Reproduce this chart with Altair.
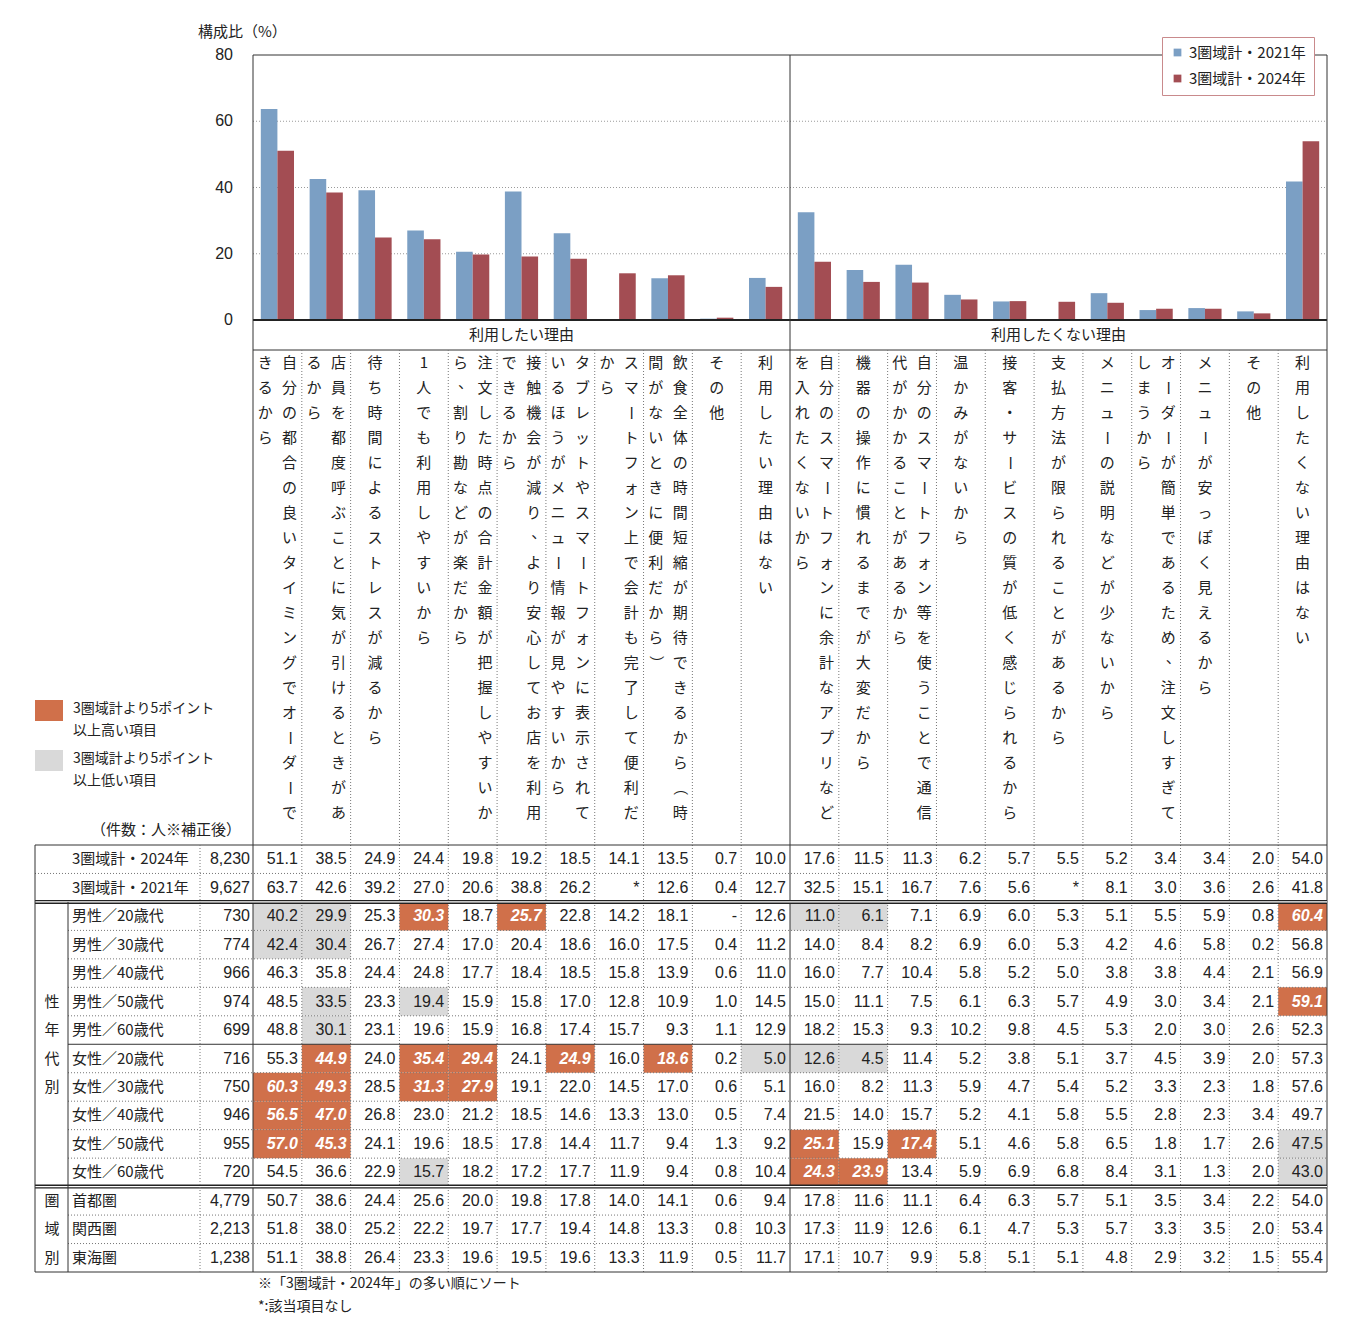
import altair as alt
import pandas as pd

JP = "Noto Sans CJK JP"
NUM = "Liberation Sans"

# ---------------- data ----------------
series_names = ["3圏域計・2021年", "3圏域計・2024年"]
section_names = ["利用したい理由", "利用したくない理由"]

want_reasons = [
    "自分の都合の良いタイミングでオーダーできるから",
    "店員を都度呼ぶことに気が引けるときがあるから",
    "待ち時間によるストレスが減るから",
    "1人でも利用しやすいから",
    "注文した時点の合計金額が把握しやすいから、割り勘などが楽だから",
    "接触機会が減り、より安心してお店を利用できるから",
    "タブレットやスマートフォンに表示されているほうがメニュー情報が見やすいから",
    "スマートフォン上で会計も完了して便利だから",
    "飲食全体の時間短縮が期待できるから（時間がないときに便利だから）",
    "その他",
    "利用したい理由はない",
]
dont_reasons = [
    "自分のスマートフォンに余計なアプリなどを入れたくないから",
    "機器の操作に慣れるまでが大変だから",
    "自分のスマートフォン等を使うことで通信代がかかることがあるから",
    "温かみがないから",
    "接客・サービスの質が低く感じられるから",
    "支払方法が限られることがあるから",
    "メニューの説明などが少ないから",
    "オーダーが簡単であるため、注文しすぎてしまうから",
    "メニューが安っぽく見えるから",
    "その他",
    "利用したくない理由はない",
]

total_2024 = [51.1, 38.5, 24.9, 24.4, 19.8, 19.2, 18.5, 14.1, 13.5, 0.7, 10.0,
              17.6, 11.5, 11.3, 6.2, 5.7, 5.5, 5.2, 3.4, 3.4, 2.0, 54.0]
total_2021 = [63.7, 42.6, 39.2, 27.0, 20.6, 38.8, 26.2, None, 12.6, 0.4, 12.7,
              32.5, 15.1, 16.7, 7.6, 5.6, None, 8.1, 3.0, 3.6, 2.6, 41.8]
total_labels = ["3圏域計・2024年", "3圏域計・2021年"]
total_counts = [8230, 9627]

group_names = ["性年代別", "圏域別"]
demo_labels = ["男性／20歳代", "男性／30歳代", "男性／40歳代", "男性／50歳代", "男性／60歳代",
               "女性／20歳代", "女性／30歳代", "女性／40歳代", "女性／50歳代", "女性／60歳代"]
demo_counts = [730, 774, 966, 974, 699, 716, 750, 946, 955, 720]
male_20 = [40.2, 29.9, 25.3, 30.3, 18.7, 25.7, 22.8, 14.2, 18.1, None, 12.6,
           11.0, 6.1, 7.1, 6.9, 6.0, 5.3, 5.1, 5.5, 5.9, 0.8, 60.4]
male_30 = [42.4, 30.4, 26.7, 27.4, 17.0, 20.4, 18.6, 16.0, 17.5, 0.4, 11.2,
           14.0, 8.4, 8.2, 6.9, 6.0, 5.3, 4.2, 4.6, 5.8, 0.2, 56.8]
male_40 = [46.3, 35.8, 24.4, 24.8, 17.7, 18.4, 18.5, 15.8, 13.9, 0.6, 11.0,
           16.0, 7.7, 10.4, 5.8, 5.2, 5.0, 3.8, 3.8, 4.4, 2.1, 56.9]
male_50 = [48.5, 33.5, 23.3, 19.4, 15.9, 15.8, 17.0, 12.8, 10.9, 1.0, 14.5,
           15.0, 11.1, 7.5, 6.1, 6.3, 5.7, 4.9, 3.0, 3.4, 2.1, 59.1]
male_60 = [48.8, 30.1, 23.1, 19.6, 15.9, 16.8, 17.4, 15.7, 9.3, 1.1, 12.9,
           18.2, 15.3, 9.3, 10.2, 9.8, 4.5, 5.3, 2.0, 3.0, 2.6, 52.3]
female_20 = [55.3, 44.9, 24.0, 35.4, 29.4, 24.1, 24.9, 16.0, 18.6, 0.2, 5.0,
             12.6, 4.5, 11.4, 5.2, 3.8, 5.1, 3.7, 4.5, 3.9, 2.0, 57.3]
female_30 = [60.3, 49.3, 28.5, 31.3, 27.9, 19.1, 22.0, 14.5, 17.0, 0.6, 5.1,
             16.0, 8.2, 11.3, 5.9, 4.7, 5.4, 5.2, 3.3, 2.3, 1.8, 57.6]
female_40 = [56.5, 47.0, 26.8, 23.0, 21.2, 18.5, 14.6, 13.3, 13.0, 0.5, 7.4,
             21.5, 14.0, 15.7, 5.2, 4.1, 5.8, 5.5, 2.8, 2.3, 3.4, 49.7]
female_50 = [57.0, 45.3, 24.1, 19.6, 18.5, 17.8, 14.4, 11.7, 9.4, 1.3, 9.2,
             25.1, 15.9, 17.4, 5.1, 4.6, 5.8, 6.5, 1.8, 1.7, 2.6, 47.5]
female_60 = [54.5, 36.6, 22.9, 15.7, 18.2, 17.2, 17.7, 11.9, 9.4, 0.8, 10.4,
             24.3, 23.9, 13.4, 5.9, 6.9, 6.8, 8.4, 3.1, 1.3, 2.0, 43.0]
region_labels = ["首都圏", "関西圏", "東海圏"]
region_counts = [4779, 2213, 1238]
shutoken = [50.7, 38.6, 24.4, 25.6, 20.0, 19.8, 17.8, 14.0, 14.1, 0.6, 9.4,
            17.8, 11.6, 11.1, 6.4, 6.3, 5.7, 5.1, 3.5, 3.4, 2.2, 54.0]
kansaiken = [51.8, 38.0, 25.2, 22.2, 19.7, 17.7, 19.4, 14.8, 13.3, 0.8, 10.3,
             17.3, 11.9, 12.6, 6.1, 4.7, 5.3, 5.7, 3.3, 3.5, 2.0, 53.4]
tokaiken = [51.1, 38.8, 26.4, 23.3, 19.6, 19.5, 19.6, 13.3, 11.9, 0.5, 11.7,
            17.1, 10.7, 9.9, 5.8, 5.1, 5.1, 4.8, 2.9, 3.2, 1.5, 55.4]

y_ticks = [0, 20, 40, 60, 80]
axis_title = "構成比（%）"
key_labels = ["3圏域計より5ポイント\n以上高い項目", "3圏域計より5ポイント\n以上低い項目"]
unit_note = "（件数：人※補正後）"
footnotes = ["※「3圏域計・2024年」の多い順にソート", "*:該当項目なし"]

# ---------------- frames ----------------
BLUE, RED = "#7B9FC4", "#A34D53"
ORANGE, GRAY = "#D0704A", "#D9D9D9"
LINE, DOT = "#333333", "#777777"

reasons = want_reasons + dont_reasons
cat_ids = [f"c{i:02d}" for i in range(len(reasons))]
n_cat = len(cat_ids)

bar_rows = []
for s, vals in zip(series_names, [total_2021, total_2024]):
    for cid, v in zip(cat_ids, vals):
        if v is not None:
            bar_rows.append(dict(cid=cid, series=s, value=v))
bar_df = pd.DataFrame(bar_rows)

row_names = total_labels + demo_labels + region_labels
row_counts = total_counts + demo_counts + region_counts
row_values = [total_2024, total_2021, male_20, male_30, male_40, male_50, male_60,
              female_20, female_30, female_40, female_50, female_60,
              shutoken, kansaiken, tokaiken]
n_row = len(row_names)

cells = []
for ri, (rn, vals) in enumerate(zip(row_names, row_values)):
    for ci, v in enumerate(vals):
        flag = "none"
        if v is None:
            disp = "*" if ri == 1 else "-"
        else:
            disp = f"{v:.1f}"
            if ri >= 2:
                d = round(v - total_2024[ci], 1)
                if d >= 5:
                    flag = "high"
                elif d <= -5:
                    flag = "low"
        cells.append(dict(row=rn, cid=cat_ids[ci], disp=disp, flag=flag))
cell_df = pd.DataFrame(cells)

count_df = pd.DataFrame(dict(row=row_names, cnt=[f"{c:,}" for c in row_counts]))

grp_rows = []
for ch, rn in zip(group_names[0], demo_labels[3:7]):
    grp_rows.append(dict(row=rn, ch=ch))
for ch, rn in zip(group_names[1], region_labels):
    grp_rows.append(dict(row=rn, ch=ch))
grp_df = pd.DataFrame(grp_rows)

# vertical category labels, 19 characters per column line
chars = []
for cid, lab in zip(cat_ids, reasons):
    lines = [lab[i:i + 19] for i in range(0, len(lab), 19)]
    slots = ["C"] if len(lines) == 1 else ["R", "L"]
    for line, slot in zip(lines, slots):
        for k, ch in enumerate(line):
            chars.append(dict(cid=cid, slot=slot, k=k, ch=ch,
                              rot=90 if ch in "ー（）" else 0,
                              punct=ch in "、"))
char_df = pd.DataFrame(chars)

sec_df = pd.DataFrame(dict(t=section_names, c=[n_cat / 4, 3 * n_cat / 4]))
tick_df = pd.DataFrame(dict(v=y_ticks))

# ---------------- scales ----------------
XR = [245, 1319]
def col_band(pi=0.0, po=0.0):
    return alt.Scale(type="band", domain=cat_ids, range=XR, paddingInner=pi, paddingOuter=po)
def col_lin():
    return alt.Scale(domain=[0, n_cat], range=XR, nice=False, zero=False)
def row_band():
    return alt.Scale(type="band", domain=row_names, range=[837, 1264], paddingInner=0, paddingOuter=0)
def row_lin():
    return alt.Scale(domain=[0, n_row], range=[837, 1264], nice=False, zero=False)
def bar_y():
    return alt.Scale(domain=[0, 80], range=[312, 47], nice=False, zero=True)
def char_y():
    return alt.Scale(domain=[0, 18], range=[355, 805], nice=False, zero=False)

layers = []

# highlighted cells
layers.append(alt.Chart(cell_df).transform_filter("datum.flag != 'none'").mark_rect().encode(
    x=alt.X("cid:N", scale=col_band(), axis=None),
    y=alt.Y("row:N", scale=row_band(), axis=None),
    color=alt.Color("flag:N", scale=alt.Scale(domain=["high", "low"], range=[ORANGE, GRAY]), legend=None),
))

# left key swatches
key_df = pd.DataFrame(dict(k=[0, 1], lab=key_labels))
layers.append(alt.Chart(key_df).mark_rect().encode(
    x=alt.value(27), x2=alt.value(55),
    y=alt.Y("k:Q", scale=alt.Scale(domain=[0, 1], range=[692, 742]), axis=None),
    y2=alt.Y2("k2:Q"),
    color=alt.Color("k:N", scale=alt.Scale(domain=[0, 1], range=[ORANGE, GRAY]), legend=None),
).transform_calculate(k2="datum.k + 0.42"))
layers.append(alt.Chart(key_df).mark_text(font=JP, fontSize=14, align="left", baseline="top",
                                          lineBreak="\n", lineHeight=22, color="#222").encode(
    x=alt.value(65),
    y=alt.Y("k:Q", scale=alt.Scale(domain=[0, 1], range=[694, 744]), axis=None),
    text="lab:N"))

# bar gridlines
layers.append(alt.Chart(tick_df).transform_filter("datum.v > 0 && datum.v < 80").mark_rule(
    color="#9a9a9a", strokeDash=[1, 2], strokeWidth=1).encode(
    y=alt.Y("v:Q", scale=bar_y(), axis=None), x=alt.value(XR[0]), x2=alt.value(XR[1])))

# bars
layers.append(alt.Chart(bar_df).mark_bar().encode(
    x=alt.X("cid:N", scale=col_band(0.32, 0.16), axis=None),
    xOffset=alt.XOffset("series:N", scale=alt.Scale(domain=series_names, paddingInner=0, paddingOuter=0)),
    y=alt.Y("value:Q", scale=bar_y(), axis=None),
    color=alt.Color("series:N", scale=alt.Scale(domain=series_names, range=[BLUE, RED]),
                    legend=alt.Legend(orient="none", legendX=1154, legendY=29, title=None,
                                      symbolType="square", symbolSize=60, symbolStrokeWidth=0,
                                      labelFont=JP, labelFontSize=15, labelColor="#222",
                                      rowPadding=10, padding=8, labelOffset=4,
                                      strokeColor="#C98A8C", fillColor="white", labelLimit=300)),
))

# bar frame top and baseline
layers.append(alt.Chart(tick_df).transform_filter("datum.v == 80").mark_rule(color=LINE, strokeWidth=1).encode(
    y=alt.Y("v:Q", scale=bar_y(), axis=None), x=alt.value(XR[0]), x2=alt.value(XR[1])))
layers.append(alt.Chart(tick_df).transform_filter("datum.v == 0").mark_rule(color="#222", strokeWidth=2).encode(
    y=alt.Y("v:Q", scale=bar_y(), axis=None), x=alt.value(XR[0]), x2=alt.value(XR[1])))
# section header bottom
layers.append(alt.Chart(sec_df.head(1)).mark_rule(color=LINE, strokeWidth=1).encode(
    y=alt.value(342), x=alt.value(XR[0]), x2=alt.value(XR[1])))

# vertical column boundaries
bounds = pd.DataFrame(dict(c=list(range(n_cat + 1))))
major = [0, n_cat // 2, n_cat]
layers.append(alt.Chart(bounds).transform_filter(alt.FieldOneOfPredicate(field="c", oneOf=major)).mark_rule(
    color=LINE, strokeWidth=1).encode(
    x=alt.X("c:Q", scale=col_lin(), axis=None), y=alt.value(47), y2=alt.value(1264)))
layers.append(alt.Chart(bounds).transform_filter(
    {"not": alt.FieldOneOfPredicate(field="c", oneOf=major)}).mark_rule(
    color=DOT, strokeDash=[1, 2], strokeWidth=1).encode(
    x=alt.X("c:Q", scale=col_lin(), axis=None), y=alt.value(342), y2=alt.value(1264)))

# table horizontal lines
rb = pd.DataFrame(dict(r=list(range(n_row + 1))))
grp_starts = [2, 12]
full_solid = [0, n_row]
inner_solid = [7]
def hline(sel, x0, **kw):
    return alt.Chart(rb).transform_filter(alt.FieldOneOfPredicate(field="r", oneOf=sel)).mark_rule(**kw).encode(
        y=alt.Y("r:Q", scale=row_lin(), axis=None), x=alt.value(x0), x2=alt.value(XR[1]))
dotted_inner = [r for r in range(3, n_row) if r not in grp_starts + inner_solid]
layers.append(hline([1], 27, color=DOT, strokeDash=[1, 2], strokeWidth=1))
layers.append(hline(dotted_inner, 60, color=DOT, strokeDash=[1, 2], strokeWidth=1))
layers.append(hline(full_solid, 27, color=LINE, strokeWidth=1))
layers.append(hline(inner_solid, 60, color=LINE, strokeWidth=1))
layers.append(hline(grp_starts, 27, color="#222", strokeWidth=4))
layers.append(hline(grp_starts, 27, color="white", strokeWidth=1.2))

# table left verticals
span = pd.DataFrame(dict(r0=[0, 2], r1=[n_row, n_row]))
layers.append(alt.Chart(span.head(1)).mark_rule(color=LINE, strokeWidth=1).encode(
    x=alt.value(27), y=alt.Y("r0:Q", scale=row_lin(), axis=None), y2="r1:Q"))
layers.append(alt.Chart(span.tail(1)).mark_rule(color=LINE, strokeWidth=1).encode(
    x=alt.value(60), y=alt.Y("r0:Q", scale=row_lin(), axis=None), y2="r1:Q"))
layers.append(alt.Chart(span.head(1)).mark_rule(color=DOT, strokeDash=[1, 2], strokeWidth=1).encode(
    x=alt.value(192), y=alt.Y("r0:Q", scale=row_lin(), axis=None), y2="r1:Q"))

# y tick labels and title
layers.append(alt.Chart(tick_df).mark_text(font=NUM, fontSize=16, align="right", baseline="middle",
                                           color="#222").encode(
    y=alt.Y("v:Q", scale=bar_y(), axis=None), x=alt.value(225), text="v:N"))
layers.append(alt.Chart(pd.DataFrame(dict(t=[axis_title]))).mark_text(
    font=JP, fontSize=15, align="left", baseline="middle", color="#222").encode(
    x=alt.value(190), y=alt.value(24), text="t:N"))

# section labels
layers.append(alt.Chart(sec_df).mark_text(font=JP, fontSize=15, baseline="middle", color="#222").encode(
    x=alt.X("c:Q", scale=col_lin(), axis=None), y=alt.value(327), text="t:N"))

# vertical category labels
def char_layer(pfilter, **kw):
    return alt.Chart(char_df).transform_filter(pfilter).mark_text(
        font=JP, fontSize=15, align="center", baseline="middle", color="#222", **kw).encode(
        x=alt.X("cid:N", scale=col_band(), axis=None),
        xOffset=alt.XOffset("slot:N", scale=alt.Scale(type="point", domain=["L", "C", "R"], padding=1)),
        y=alt.Y("k:Q", scale=char_y(), axis=None),
        angle=alt.Angle("rot:Q", scale=None),
        text="ch:N")
layers.append(char_layer("!datum.punct"))
layers.append(char_layer("datum.punct", dx=5, dy=-5))

# table numbers
def num_layer(pfilter, **kw):
    return alt.Chart(cell_df).transform_filter(pfilter).mark_text(
        font=NUM, fontSize=16, align="right", baseline="middle", dx=-4, **kw).encode(
        x=alt.X("cid:N", scale=col_band(), axis=None, bandPosition=1),
        y=alt.Y("row:N", scale=row_band(), axis=None, bandPosition=0.5),
        text="disp:N")
layers.append(num_layer("datum.flag != 'high'", color="#222"))
layers.append(num_layer("datum.flag == 'high'", color="white", fontWeight="bold", fontStyle="italic"))

# counts, row labels, group labels
layers.append(alt.Chart(count_df).mark_text(font=NUM, fontSize=16, align="right", baseline="middle",
                                            color="#222").encode(
    x=alt.value(242), y=alt.Y("row:N", scale=row_band(), axis=None, bandPosition=0.5), text="cnt:N"))
layers.append(alt.Chart(count_df).mark_text(font=JP, fontSize=15, align="left", baseline="middle",
                                            color="#222").encode(
    x=alt.value(64), y=alt.Y("row:N", scale=row_band(), axis=None, bandPosition=0.5), text="row:N"))
layers.append(alt.Chart(grp_df).mark_text(font=JP, fontSize=15, align="center", baseline="middle",
                                          color="#222").encode(
    x=alt.value(44), y=alt.Y("row:N", scale=row_band(), axis=None, bandPosition=0.5), text="ch:N"))

# notes
layers.append(alt.Chart(pd.DataFrame(dict(t=[unit_note]))).mark_text(
    font=JP, fontSize=15, align="right", baseline="middle", color="#222").encode(
    x=alt.value(233), y=alt.value(822), text="t:N"))
note_df = pd.DataFrame(dict(t=footnotes, i=[0, 1]))
layers.append(alt.Chart(note_df).mark_text(font=JP, fontSize=14, align="left", baseline="middle",
                                           color="#222").encode(
    x=alt.value(250),
    y=alt.Y("i:Q", scale=alt.Scale(domain=[0, 1], range=[1276, 1299]), axis=None),
    text="t:N"))

chart = alt.layer(*layers).resolve_scale(
    x="independent", y="independent", color="independent", xOffset="independent"
).properties(
    width=1343, height=1318, autosize=alt.AutoSizeParams(type="none"), padding=0
).configure_view(stroke=None)

chart.save("out.html", embed_options={"renderer": "svg", "actions": False})
